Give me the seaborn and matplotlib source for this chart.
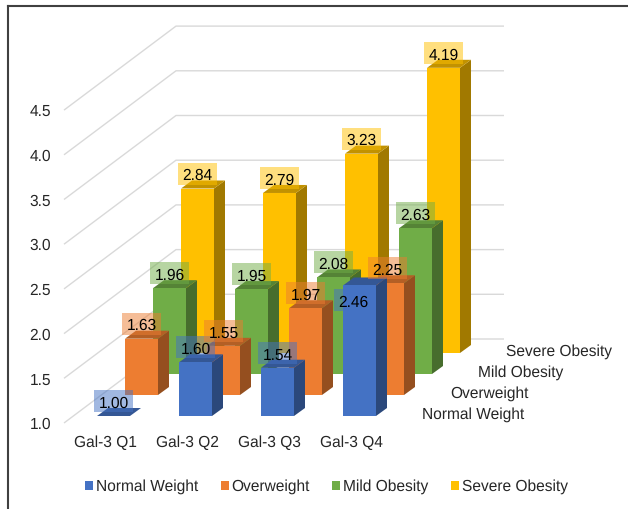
import matplotlib
matplotlib.use("Agg")
import matplotlib.pyplot as plt
from matplotlib.patches import Patch, Polygon, Rectangle
import numpy as np
import seaborn as sns

quartiles = ["Gal-3 Q1", "Gal-3 Q2", "Gal-3 Q3", "Gal-3 Q4"]
groups = ["Normal Weight", "Overweight", "Mild Obesity", "Severe Obesity"]
normal_weight = [1.00, 1.60, 1.54, 2.46]
overweight = [1.63, 1.55, 1.97, 2.25]
mild_obesity = [1.96, 1.95, 2.08, 2.63]
severe_obesity = [2.84, 2.79, 3.23, 4.19]
y_ticks = [1.0, 1.5, 2.0, 2.5, 3.0, 3.5, 4.0, 4.5]
colors = ["#4472C4", "#ED7D31", "#70AD47", "#FFC000"]

# Oblique projection: pixels per category / per value unit, and the shift per row of depth.
W, H = 628, 509
PX_CAT, PX_VAL = 82.0, 89.4
X0, Y0 = 64.0, 423.0          # pixel position of category edge 0, value 1.0
ROW_DX, ROW_DY = 28.0 / PX_CAT, 21.0 / PX_VAL
BAR_W = 33.0 / PX_CAT
SIDE_DX, SIDE_DY = 11.0 / PX_CAT, 8.0 / PX_VAL
GAP_DX, GAP_DY = 8.5 / PX_CAT, 7.0 / PX_VAL
BASE = 1.0

sns.set_theme(style="white")
plt.rcParams["font.family"] = ["Liberation Sans", "DejaVu Sans"]
plt.rcParams["text.hinting"] = "none"
plt.rcParams["text.hinting_factor"] = 8
FS = 11.2
INK = "#262626"

fig = plt.figure(figsize=(W / 100, H / 100), dpi=100, facecolor="white")
FRAME_L, FRAME_T = 8, 6
ax = fig.add_axes([FRAME_L / W, 0, (W - FRAME_L) / W, (H - FRAME_T) / H])
xlim = ((FRAME_L - X0) / PX_CAT, (W - X0) / PX_CAT)
ylim = (BASE + (Y0 - H) / PX_VAL, BASE + (Y0 - FRAME_T) / PX_VAL)

n_cat, n_row = len(quartiles), len(groups)

# Gridlines run up the side wall and then along the back wall.
for t in y_ticks:
    ax.plot([0, n_row * ROW_DX, n_cat + n_row * ROW_DX],
            [t, t + n_row * ROW_DY, t + n_row * ROW_DY],
            color="#D9D9D9", lw=1.0, zorder=1, solid_capstyle="butt")
    ax.text(-13 / PX_CAT, t - 2.0 / PX_VAL, f"{t:.1f}", ha="right", va="center",
            fontsize=FS, color=INK)

series = [normal_weight, overweight, mild_obesity, severe_obesity]


def shade(color, factor):
    return tuple(c * factor for c in matplotlib.colors.to_rgb(color))


# Rows are painted from the back so nearer bars hide farther ones.
for row in range(n_row - 1, -1, -1):
    values = np.array(series[row])
    z = 10 + (n_row - row) * 3
    left = np.arange(n_cat) + (1 - BAR_W) / 2 + GAP_DX + row * ROW_DX
    floor = BASE + GAP_DY + row * ROW_DY
    sns.barplot(x=left + BAR_W / 2, y=values - BASE, bottom=floor,
                native_scale=True, width=BAR_W, color=colors[row], saturation=1,
                errorbar=None, ax=ax, zorder=z + 2, linewidth=0, edgecolor="none")
    for x, v in zip(left, values):
        top = floor + v - BASE
        ax.add_patch(Polygon(
            [(x + BAR_W, floor), (x + BAR_W + SIDE_DX, floor + SIDE_DY),
             (x + BAR_W + SIDE_DX, top + SIDE_DY), (x + BAR_W, top)],
            closed=True, fc=shade(colors[row], 0.63), ec="none", zorder=z))
        ax.add_patch(Polygon(
            [(x, top), (x + BAR_W, top), (x + BAR_W + SIDE_DX, top + SIDE_DY),
             (x + SIDE_DX, top + SIDE_DY)],
            closed=True, fc=shade(colors[row], 0.76), ec="none", zorder=z + 1))

# Value labels sit on translucent tags above every bar.
BOX_W, BOX_H = 39.0 / PX_CAT, 22.0 / PX_VAL
for row in range(n_row):
    for cat, v in enumerate(series[row]):
        cx = cat + 0.5 + GAP_DX + row * ROW_DX
        cy = BASE + GAP_DY + row * ROW_DY + v - BASE + 15.0 / PX_VAL
        if row == 0 and cat == 3:
            # the tallest front bar carries its tag lowered over the neighbouring bars
            cx -= 6.0 / PX_CAT
            cy -= 29.5 / PX_VAL
        ax.add_patch(Rectangle((cx - BOX_W / 2, cy - BOX_H / 2), BOX_W, BOX_H,
                               fc=colors[row], alpha=0.5, ec="none", zorder=40))
        ax.text(cx, cy - 2.5 / PX_VAL, f"{v:.2f}", ha="center", va="center",
                fontsize=FS, color="black", zorder=41)

# Category labels along the front edge, row labels along the right edge.
for cat, name in enumerate(quartiles):
    ax.text(cat + 0.5, BASE - 20.0 / PX_VAL, name, ha="center", va="center",
            fontsize=FS, color=INK)
for row, name in enumerate(groups):
    ax.text(n_cat + 30.0 / PX_CAT + row * ROW_DX, BASE + 8.5 / PX_VAL + row * ROW_DY,
            name, ha="left", va="center", fontsize=FS, color=INK)

ax.set_xlim(xlim)
ax.set_ylim(ylim)
ax.set_xlabel("")
ax.set_ylabel("")
ax.set_xticks([])
ax.set_yticks([])
ax.grid(False)
for side in ("right", "bottom"):
    ax.spines[side].set_visible(False)
for side in ("left", "top"):
    ax.spines[side].set_visible(True)
    ax.spines[side].set_color("#404040")
    ax.spines[side].set_linewidth(1.5)

handles = [Patch(fc=c, ec="none", label=g) for c, g in zip(colors, groups)]
ax.legend(handles=handles, ncol=4, frameon=False, fontsize=FS, loc="center left",
          bbox_to_anchor=(85 / W, 1 - 486.5 / H), bbox_transform=fig.transFigure,
          borderpad=0, borderaxespad=0, handlelength=0.52, handleheight=0.52,
          handletextpad=0.2, columnspacing=1.42, labelcolor=INK)

fig.savefig("out.png", dpi=100, facecolor="white")
